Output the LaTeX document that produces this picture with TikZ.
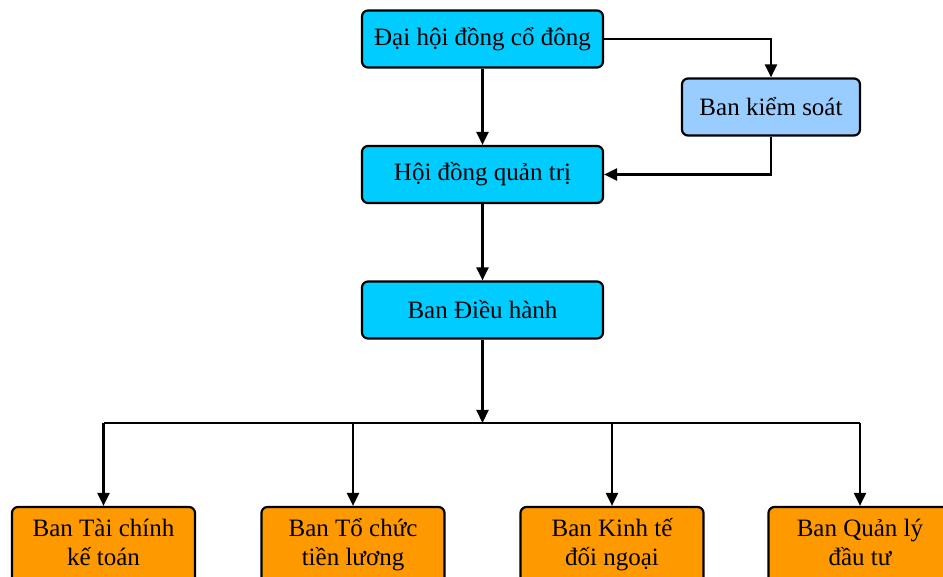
\documentclass[tikz,border=0pt]{standalone}
\usepackage{fontspec}
\setmainfont{Liberation Serif}
\usetikzlibrary{arrows.meta,positioning}
\definecolor{boxcyan}{RGB}{0,204,255}
\definecolor{boxblue}{RGB}{153,204,255}
\definecolor{boxorange}{RGB}{255,153,0}
\newcommand{\twolines}[2]{\strut #1\\\strut #2}
\begin{document}
\begin{tikzpicture}[x=1pt,y=1pt,->,>={Triangle[length=13pt,width=12pt]},line width=2.2pt,node distance=135.5pt,
    main box/.style={draw,rounded corners=6pt,fill=boxcyan,minimum width=241pt,minimum height=57pt,font=\fontsize{25}{29}\selectfont},
    side box/.style={main box,fill=boxblue,minimum width=178pt},
    dept box/.style={main box,fill=boxorange,minimum width=183pt,minimum height=76pt,align=center}]

    \useasboundingbox (0,0) rectangle (943,-577);

    \node[main box] (dh) at (482.5,-39) {Đại hội đồng cổ đông};
    \node[main box] (hdqt) [below of=dh] {Hội đồng quản trị};
    \node[main box] (bdh) [below of=hdqt] {Ban Điều hành};
    \node[side box] (bks) at (771,-107) {Ban kiểm soát};

    \node[dept box] (tc) at (103.5,-545) {\twolines{Ban Tài chính}{kế toán}};
    \node[dept box] (td) at (353,-545) {\twolines{Ban Tổ chức}{tiền lương}};
    \node[dept box] (kt) at (612,-545) {\twolines{Ban Kinh tế}{đối ngoại}};
    \node[dept box] (ql) at (860,-545) {\twolines{Ban Quản lý}{đầu tư}};

    \coordinate (bus) at (482.5,-423);
    \coordinate (busl) at (103.5,-423);
    \coordinate (busr) at (860,-423);

    \draw (dh) -- (hdqt);
    \draw (hdqt) -- (bdh);
    \draw (dh.east) -| (bks.north);
    \draw (bks.south) |- (hdqt.east);
    \draw (bdh.south) -- (bus);
    \draw[-] (busl) -- (busr);

    \foreach \d in {tc,td,kt,ql}
        \draw (busl -| \d.north) -- (\d.north);
\end{tikzpicture}
\end{document}
